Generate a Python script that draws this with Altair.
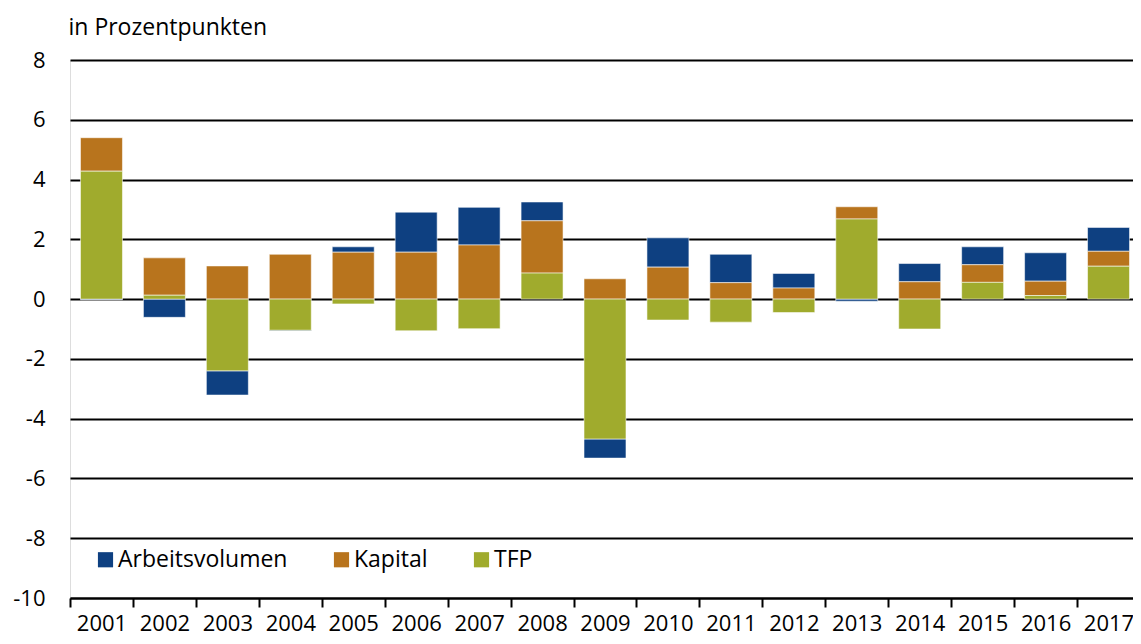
import altair as alt
import pandas as pd

years = [str(y) for y in range(2001, 2018)]
arbeitsvolumen = [-0.02, -0.61, -0.81, -0.03, 0.18, 1.34, 1.26, 0.63, -0.64, 0.98, 0.95, 0.49, -0.07, 0.61, 0.60, 0.95, 0.80]
kapital = [1.12, 1.25, 1.11, 1.50, 1.57, 1.57, 1.81, 1.75, 0.68, 1.07, 0.55, 0.37, 0.41, 0.58, 0.59, 0.48, 0.50]
tfp = [4.28, 0.13, -2.40, -1.04, -0.16, -1.06, -0.99, 0.87, -4.68, -0.70, -0.77, -0.45, 2.68, -1.00, 0.56, 0.12, 1.10]

series_names = ["Arbeitsvolumen", "Kapital", "TFP"]
series_colors = ["#0e4081", "#b8741d", "#a0ab2d"]
stack_order = {"TFP": 0, "Kapital": 1, "Arbeitsvolumen": 2}

rows = []
for name, vals in zip(series_names, [arbeitsvolumen, kapital, tfp]):
    for yr, v in zip(years, vals):
        rows.append({"Jahr": yr, "Komponente": name, "Wert": v, "ord": stack_order[name]})
df = pd.DataFrame(rows)

FONT = "Open Sans"
FS = 22
FS_TEXT = 23

chart = alt.Chart(df).mark_bar(
    stroke="white", strokeWidth=0.8, strokeOpacity=0.7,
    width=alt.RelativeBandSize(0.667)
).encode(
    x=alt.X("Jahr:N", sort=years,
            scale=alt.Scale(paddingInner=0, paddingOuter=0),
            axis=alt.Axis(title=None, labelAngle=0, labelFontSize=FS, labelColor="black",
                          labelFont=FONT, labelPadding=6, tickBand="extent",
                          tickSize=9, tickWidth=2, tickColor="black",
                          domainColor="black", domainWidth=2, grid=False)),
    y=alt.Y("Wert:Q", stack="zero",
            scale=alt.Scale(domain=[-10, 8], nice=False, zero=False),
            axis=alt.Axis(values=list(range(-10, 9, 2)), title="in Prozentpunkten",
                          labelExpr="'' + datum.value",
                          titleAngle=0, titleX=-2, titleY=-33, titleAlign="left",
                          titleBaseline="middle", titleFontSize=FS_TEXT, titleFontWeight="normal",
                          titleFont=FONT, titleColor="black",
                          labelFontSize=FS, labelFont=FONT, labelColor="black", labelPadding=25,
                          ticks=False, domain=False, grid=True, gridColor="black",
                          gridWidth=2)),
    color=alt.Color("Komponente:N",
                    scale=alt.Scale(domain=series_names, range=series_colors),
                    legend=alt.Legend(title=None, orient="none", direction="horizontal",
                                      legendX=24, legendY=488, symbolType="square",
                                      symbolSize=230, symbolStrokeWidth=0,
                                      labelFontSize=FS_TEXT, labelFont=FONT, labelColor="black",
                                      labelLimit=0, columnPadding=42, labelOffset=1,
                                      symbolOpacity=1)),
    order=alt.Order("ord:Q"),
).properties(
    width=1070, height=538,
    autosize=alt.AutoSizeParams(type="none"),
    padding={"left": 62, "top": 52, "right": -7, "bottom": 38},
).configure_view(stroke=None).configure(background="white")

chart.save("out.html", embed_options={"renderer": "svg", "actions": False})
